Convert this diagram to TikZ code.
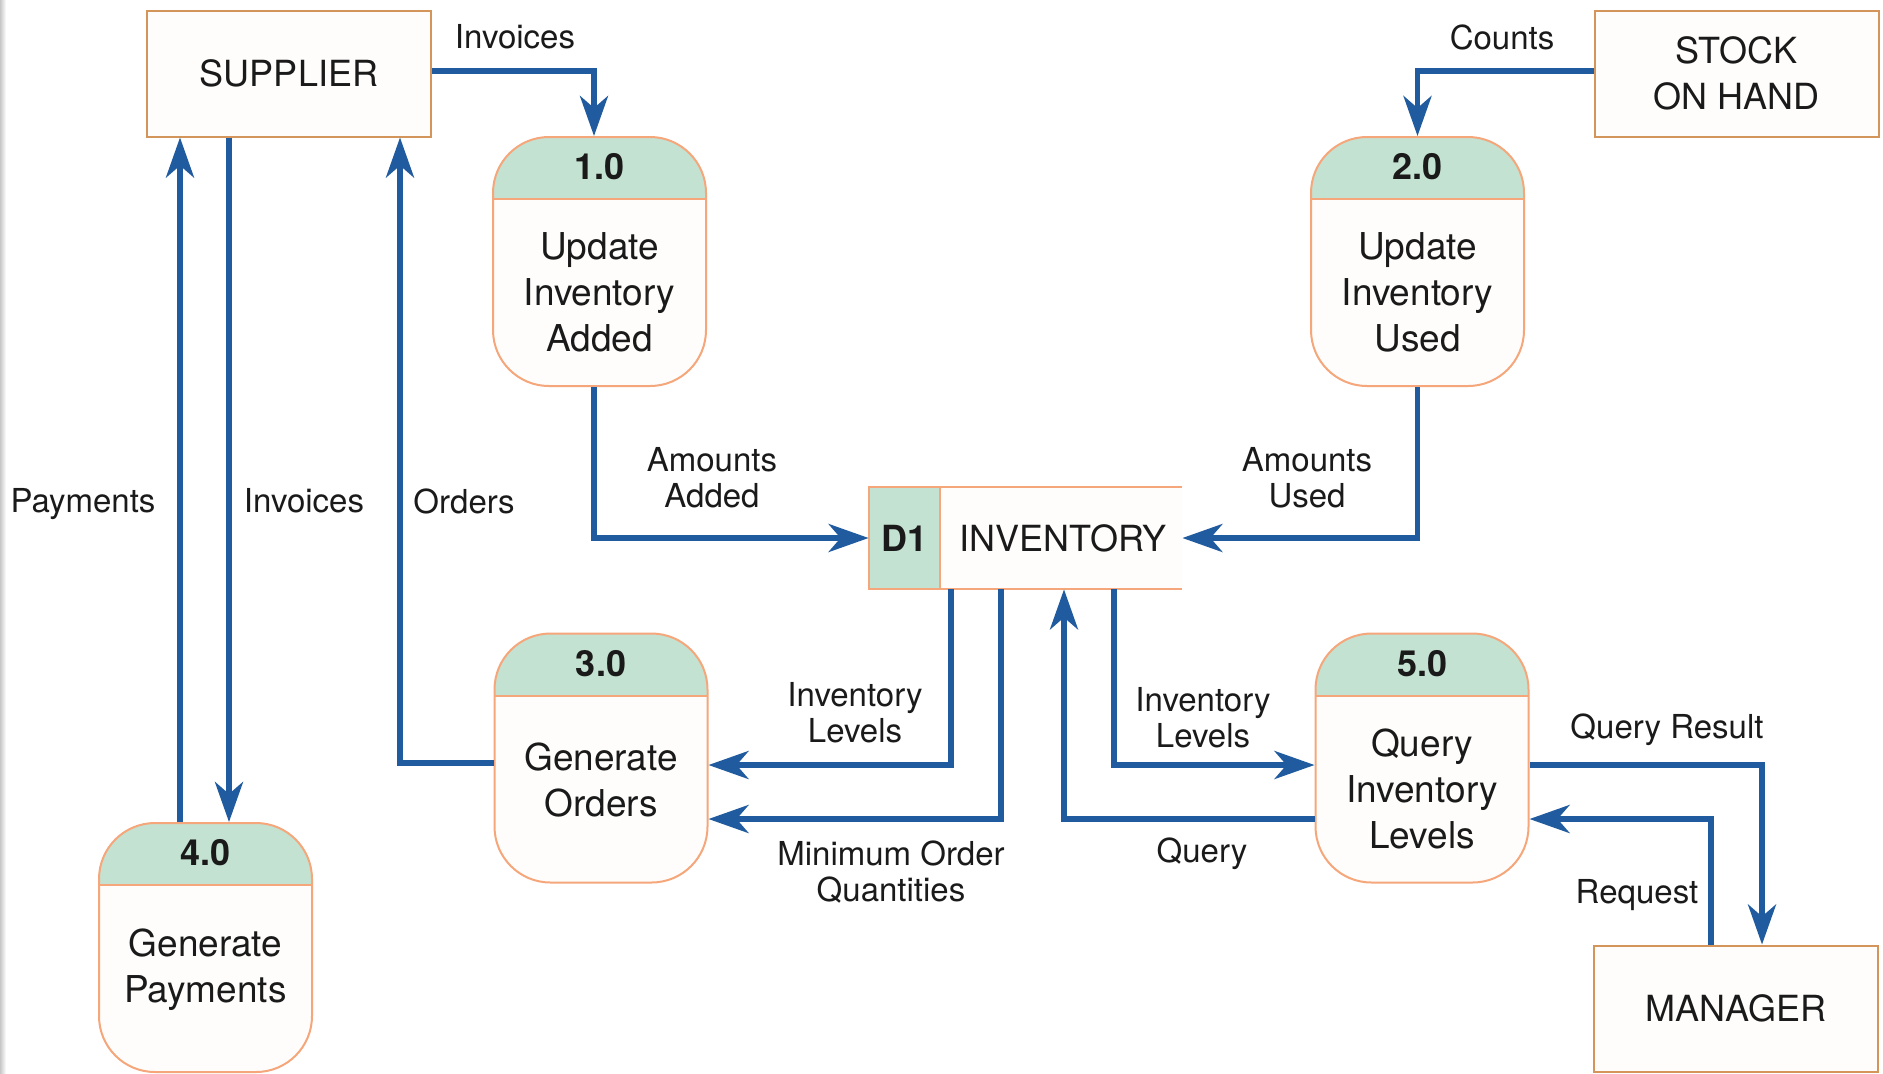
\documentclass[tikz,border=0pt]{standalone}
\usepackage{fontspec}
\setmainfont{TeX Gyre Heros}
\usetikzlibrary{arrows.meta}
\definecolor{flowblue}{RGB}{31,91,158}
\definecolor{procline}{RGB}{245,167,123}
\definecolor{extline}{RGB}{212,149,90}
\definecolor{hdrfill}{RGB}{196,226,209}
\definecolor{boxfill}{RGB}{254,253,251}
\definecolor{ink}{RGB}{26,26,26}
\tikzset{
  boxfont/.style={font=\fontsize{18}{23}\selectfont, text=ink},
  ext/.style={boxfont, draw=extline, line width=1pt, fill=boxfill, minimum width=142pt, minimum height=63pt, inner sep=0pt, align=center},
  proc/.style={draw=procline, line width=1pt, fill=boxfill, rounded corners=28pt, minimum width=106.5pt, minimum height=124.5pt, inner sep=0pt,
    path picture={
      \fill[hdrfill, sharp corners] (path picture bounding box.north west) rectangle ([yshift=-31pt]path picture bounding box.north east);
      \draw[procline, line width=1pt, sharp corners] ([yshift=-31pt]path picture bounding box.north west) -- ([yshift=-31pt]path picture bounding box.north east);
    }},
  num/.style={font=\fontsize{18}{20}\selectfont\bfseries, text=ink, inner sep=0pt},
  ptext/.style={font=\fontsize{18.5}{23}\selectfont, text=ink, align=center, inner sep=0pt},
  lbl/.style={font=\fontsize{16.5}{18}\selectfont, text=ink, align=center, inner sep=0pt},
  flow/.style={draw=flowblue, line width=2.8pt, -{Stealth[length=20pt, width=14pt, inset=6pt]}}
}
% process bubble: name, position, text shift, number, text
\def\process(#1)(#2)(#3)#4#5{%
  \node[proc] (#1) at (#2) {};
  \node[num] (#1n) at ([yshift=-15.5pt]#1.north) {#4};
  \node[ptext] (#1t) at ([yshift=-15.5pt+#3]#1.center) {#5};
}

\begin{document}
\begin{tikzpicture}[x=0.5pt, y=-0.5pt]
		%%%%% FRAME %%%%%
		\useasboundingbox (0,0) rectangle (1883,1073);
		\fill[white] (0,0) rectangle (1883,1073);
		\fill[left color=black!22, right color=white] (0,0) rectangle (6,1073);
		
		%%%%% EXTERNAL ENTITIES %%%%%
		\node[ext] (sup) at (289,73.5) {SUPPLIER};
		\node[ext] (stk) at (1736.5,73.5) {STOCK\\ON HAND};
		\node[ext] (mgr) at (1736,1008.5) {MANAGER};
		
		%%%%% PROCESSES %%%%%
		\process(p1)(599.5,261.5)(0pt){1.0}{Update\\Inventory\\Added}
		\process(p2)(1417.5,261.5)(0pt){2.0}{Update\\Inventory\\Used}
		\process(p3)(601,758)(4.5pt){3.0}{Generate\\Orders}
		\process(p4)(205.5,947.5)(4.5pt){4.0}{Generate\\Payments}
		\process(p5)(1422,758)(0pt){5.0}{Query\\Inventory\\Levels}
		
		%%%%% DATA STORE %%%%%
		\node[fill=boxfill, minimum width=156.5pt, minimum height=51pt, inner sep=0pt] (d1) at (1025.5,538) {};
		\fill[hdrfill] (d1.north west) rectangle ([xshift=35.5pt]d1.south west);
		\draw[procline, line width=1pt] (d1.north east) -- (d1.north west) -- (d1.south west) -- (d1.south east);
		\draw[procline, line width=1pt] ([xshift=35.5pt]d1.north west) -- ([xshift=35.5pt]d1.south west);
		\node[num] (d1n) at ([xshift=17.75pt]d1.west) {D1};
		\node[boxfont] (d1t) at (1063,538) {INVENTORY};
		
		%%%%% FLOWS %%%%%
		\draw[flow] (sup.east |- 0,71) -| (594,0 |- p1.north);
		\draw[flow] (stk.west |- 0,71) -| (p2.north);
		\draw[flow] (594,0 |- p1.south) |- (d1.west);
		\draw[flow] (p2.south) |- (d1.east);
		\draw[flow] (951,0 |- d1.south) |- (p3.east |- 0,765);
		\draw[flow] (1001,0 |- d1.south) |- (p3.east |- 0,819);
		\draw[flow] (p5.west |- 0,819) -| (1064,0 |- d1.south);
		\draw[flow] (1114,0 |- d1.south) |- (p5.west |- 0,765);
		\draw[flow] (p5.east |- 0,765) -| (1762,0 |- mgr.north);
		\draw[flow] (1711,0 |- mgr.north) |- (p5.east |- 0,819);
		\draw[flow] (p3.west |- 0,763) -| (400,0 |- sup.south);
		\draw[flow] (229,0 |- sup.south) -- (229,0 |- p4.north);
		\draw[flow] (180,0 |- p4.north) -- (180,0 |- sup.south);
		
		%%%%% LABELS %%%%%
		\node[lbl] (l1) at (515,37) {Invoices};
		\node[lbl] (l2) at (1502,37) {Counts};
		\node[lbl] (l3) at (712,478) {Amounts\\Added};
		\node[lbl] (l4) at (1307,478) {Amounts\\Used};
		\node[lbl] (l5) at (83,504) {Payments};
		\node[lbl] (l6) at (304,501) {Invoices};
		\node[lbl] (l7) at (464,501) {Orders};
		\node[lbl] (l8) at (855,713) {Inventory\\Levels};
		\node[lbl] (l9) at (1203,718) {Inventory\\Levels};
		\node[lbl] (l10) at (891,872) {Minimum Order\\Quantities};
		\node[lbl] (l11) at (1202,854) {Query};
		\node[lbl] (l12) at (1667,730) {Query Result};
		\node[lbl] (l13) at (1637,895) {Request};
		
	\end{tikzpicture}
\end{document}
